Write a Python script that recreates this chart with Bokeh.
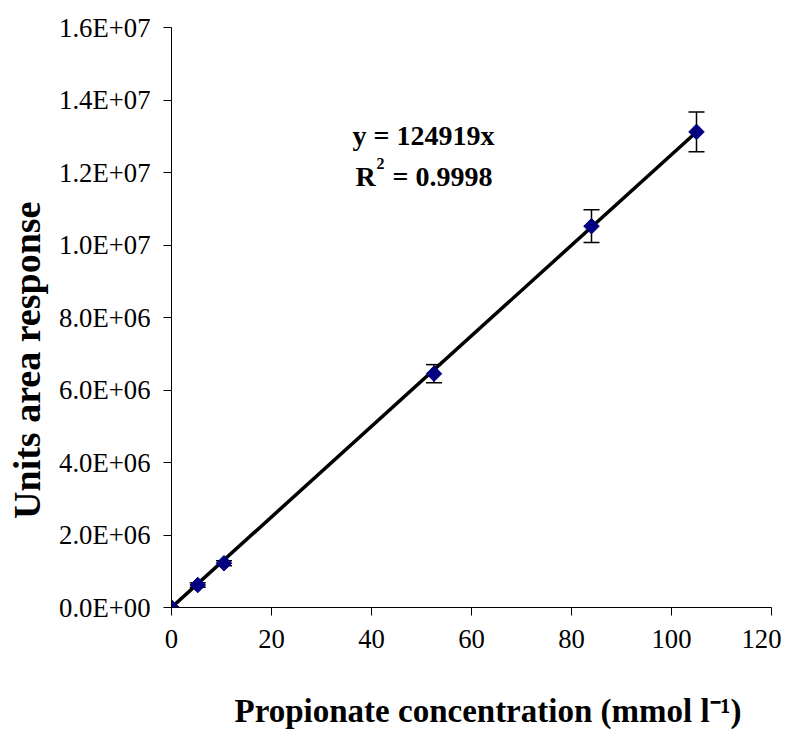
from bokeh.plotting import figure
from bokeh.models import Range1d, Whisker, TeeHead, ColumnDataSource, Label, FixedTicker
from bokeh.embed import file_html
from bokeh.resources import INLINE

# ---- data ----
conc = [0, 5.25, 10.5, 52.5, 84, 105]                       # mmol l-1
area = [0, 0.62e6, 1.22e6, 6.45e6, 10.52e6, 13.12e6]        # units area response
err = [0, 0.06e6, 0.07e6, 0.25e6, 0.45e6, 0.55e6]           # error bar half-widths
slope = 124919
r2 = 0.9998
x_ticks = [0, 20, 40, 60, 80, 100, 120]
y_ticks = [0, 2e6, 4e6, 6e6, 8e6, 10e6, 12e6, 14e6, 16e6]
y_tick_labels = ["0.0E+00", "2.0E+06", "4.0E+06", "6.0E+06", "8.0E+06",
                 "1.0E+07", "1.2E+07", "1.4E+07", "1.6E+07"]

SERIF = "Liberation Serif"
NB = "\u00a0"

p = figure(width=781, height=740, output_backend="svg", toolbar_location=None,
           x_range=Range1d(0, 120), y_range=Range1d(0, 1.6e7),
           min_border_left=171, min_border_right=10, min_border_top=27, min_border_bottom=133)
p.outline_line_color = None
p.grid.visible = False
p.background_fill_color = "white"
p.border_fill_color = "white"

for ax in (p.xaxis[0], p.yaxis[0]):
    ax.axis_line_color = "black"
    ax.axis_line_width = 1
    ax.major_tick_line_color = "black"
    ax.major_tick_out = 8
    ax.major_tick_in = 0
    ax.minor_tick_line_color = None
    ax.major_label_text_font = SERIF
    ax.major_label_text_font_size = "26.7px"
    ax.major_label_text_color = "black"
    ax.axis_label_text_font = SERIF
    ax.axis_label_text_font_style = "bold"
    ax.axis_label_text_color = "black"

p.xaxis[0].ticker = FixedTicker(ticks=x_ticks)
p.xaxis[0].major_label_standoff = 14
p.xaxis[0].axis_label = NB * 4 + "Propionate concentration (mmol l\u207b\u00b9)"
p.xaxis[0].axis_label_text_font_size = "33px"
p.xaxis[0].axis_label_standoff = 42

p.yaxis[0].ticker = FixedTicker(ticks=y_ticks)
p.yaxis[0].major_label_overrides = {t: l for t, l in zip(y_ticks, y_tick_labels)}
p.yaxis[0].major_label_standoff = 13
p.yaxis[0].axis_label = "Units area response" + NB * 9
p.yaxis[0].axis_label_text_font_size = "38px"
p.yaxis[0].axis_label_standoff = 8

# fitted line through origin
fit_x = [conc[0], conc[-1]]
fit_y = [slope * v for v in fit_x]
p.line(fit_x, fit_y, line_color="black", line_width=3.5)

# error bars
src = ColumnDataSource(dict(x=conc, y=area,
                            upper=[a + e for a, e in zip(area, err)],
                            lower=[a - e for a, e in zip(area, err)]))
w = Whisker(base="x", upper="upper", lower="lower", source=src, dimension="height",
            line_color="black", line_width=1.5,
            upper_head=TeeHead(size=16, line_color="black", line_width=1.5),
            lower_head=TeeHead(size=16, line_color="black", line_width=1.5))
p.add_layout(w)

# data points
p.scatter("x", "y", source=src, marker="square", angle=0.785398, size=11,
          fill_color="#000080", line_color="#000080")

# equation text
def lab(text, x, y, size, bold=True):
    p.add_layout(Label(x=x, y=y, x_units="screen", y_units="screen", text=text,
                       text_font=SERIF, text_font_size=size,
                       text_font_style="bold" if bold else "normal",
                       text_color="black", text_baseline="alphabetic", text_align="left"))

lab("y = %dx" % slope, 181, 472, "28px")
lab("R", 184, 431, "28px")
lab("2", 205, 444, "16px")
lab("= %.4f" % r2, 221, 431, "28px")

open("out.html", "w").write(file_html(p, INLINE))
